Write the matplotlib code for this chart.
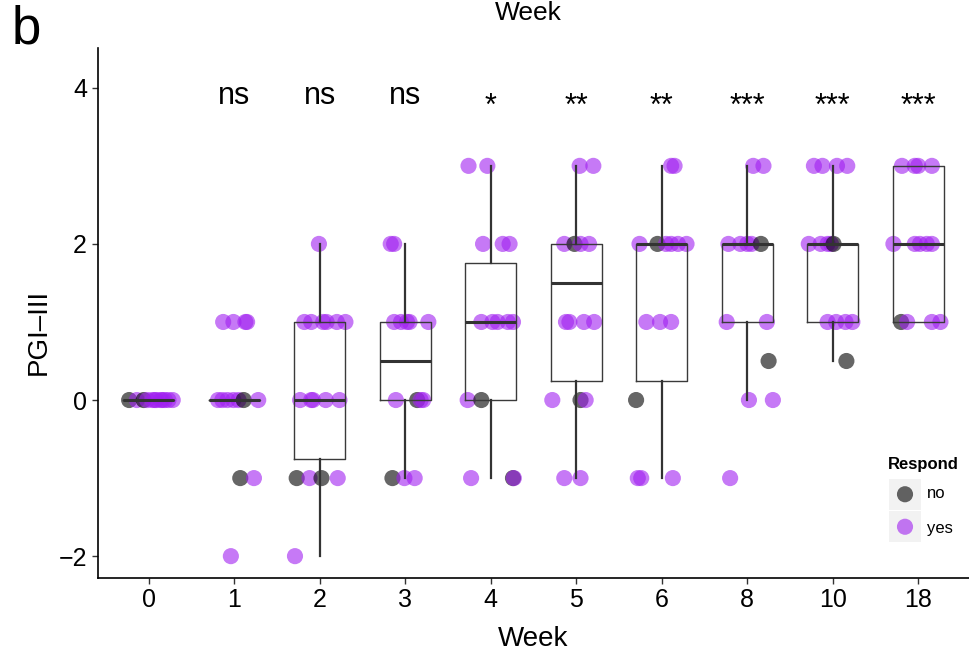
import numpy as np
import matplotlib
matplotlib.use("Agg")
import matplotlib.pyplot as plt
from matplotlib.patches import Rectangle

plt.rcParams['font.family'] = ['Liberation Sans', 'DejaVu Sans']

weeks = ['0', '1', '2', '3', '4', '5', '6', '8', '10', '18']
signif = ['', 'ns', 'ns', 'ns', '*', '**', '**', '***', '***', '***']

# points per week: (PGI-III, horizontal jitter in category units, respond)
w0 = [(0, -0.23, 'no'), (0, -0.14, 'yes'), (0, -0.06, 'no'), (0, -0.02, 'yes'),
      (0, 0.04, 'yes'), (0, 0.07, 'yes'), (0, 0.09, 'yes'), (0, 0.14, 'yes'),
      (0, 0.16, 'yes'), (0, 0.19, 'yes'), (0, 0.23, 'yes'), (0, 0.28, 'yes')]
w1 = [(1, -0.13, 'yes'), (1, -0.01, 'yes'), (1, 0.13, 'yes'), (1, 0.15, 'yes'),
      (0, -0.19, 'yes'), (0, -0.14, 'yes'), (0, -0.08, 'yes'), (0, -0.01, 'yes'),
      (0, 0.05, 'yes'), (0, 0.11, 'no'), (0, 0.28, 'yes'),
      (-1, 0.07, 'no'), (-1, 0.23, 'yes'), (-2, -0.04, 'yes')]
w2 = [(2, -0.01, 'yes'),
      (1, -0.18, 'yes'), (1, -0.10, 'yes'), (1, 0.04, 'yes'), (1, 0.08, 'yes'),
      (1, 0.20, 'yes'), (1, 0.30, 'yes'),
      (0, -0.23, 'yes'), (0, -0.10, 'yes'), (0, -0.08, 'yes'), (0, 0.07, 'yes'),
      (0, 0.23, 'yes'),
      (-1, -0.27, 'no'), (-1, -0.12, 'yes'), (-1, 0.02, 'no'), (-1, 0.21, 'yes'),
      (-2, -0.29, 'yes')]
w3 = [(2, -0.17, 'yes'), (2, -0.13, 'yes'),
      (1, -0.13, 'yes'), (1, -0.05, 'yes'), (1, 0.02, 'yes'), (1, 0.05, 'yes'),
      (1, 0.27, 'yes'),
      (0, -0.11, 'yes'), (0, 0.14, 'no'), (0, 0.18, 'yes'), (0, 0.21, 'yes'),
      (-1, -0.15, 'no'), (-1, -0.01, 'yes'), (-1, 0.11, 'yes')]
w4 = [(3, -0.26, 'yes'), (3, -0.04, 'yes'),
      (2, -0.09, 'yes'), (2, 0.14, 'yes'), (2, 0.22, 'yes'),
      (1, -0.11, 'yes'), (1, 0.02, 'yes'), (1, 0.08, 'yes'), (1, 0.20, 'yes'),
      (1, 0.26, 'yes'),
      (0, -0.27, 'yes'), (0, -0.11, 'no'),
      (-1, -0.23, 'yes'), (-1, 0.26, 'no'), (-1, 0.27, 'yes')]
w5 = [(3, 0.04, 'yes'), (3, 0.20, 'yes'),
      (2, -0.14, 'yes'), (2, -0.02, 'no'), (2, 0.05, 'yes'), (2, 0.15, 'yes'),
      (1, -0.12, 'yes'), (1, -0.08, 'yes'), (1, 0.09, 'yes'), (1, 0.21, 'yes'),
      (0, -0.28, 'yes'), (0, 0.05, 'no'), (0, 0.11, 'yes'),
      (-1, -0.14, 'yes'), (-1, 0.05, 'yes')]
w6 = [(3, 0.11, 'yes'), (3, 0.15, 'yes'),
      (2, -0.26, 'yes'), (2, -0.05, 'no'), (2, 0.05, 'yes'), (2, 0.11, 'yes'),
      (2, 0.19, 'yes'), (2, 0.29, 'yes'),
      (1, -0.18, 'yes'), (1, -0.02, 'yes'), (1, 0.11, 'yes'),
      (0, -0.30, 'no'),
      (-1, -0.28, 'yes'), (-1, -0.24, 'yes'), (-1, 0.13, 'yes')]
w8 = [(3, 0.07, 'yes'), (3, 0.19, 'yes'),
      (2, -0.22, 'yes'), (2, -0.08, 'yes'), (2, 0.0, 'yes'), (2, 0.05, 'yes'),
      (2, 0.16, 'no'),
      (1, -0.24, 'yes'), (1, 0.23, 'yes'),
      (0.5, 0.25, 'no'),
      (0, 0.02, 'yes'), (0, 0.30, 'yes'),
      (-1, -0.20, 'yes')]
w10 = [(3, -0.22, 'yes'), (3, -0.12, 'yes'), (3, 0.05, 'yes'), (3, 0.17, 'yes'),
       (2, -0.28, 'yes'), (2, -0.14, 'yes'), (2, -0.06, 'yes'), (2, -0.02, 'yes'),
       (2, 0.01, 'no'),
       (1, -0.06, 'yes'), (1, 0.04, 'yes'), (1, 0.15, 'yes'), (1, 0.23, 'yes'),
       (0.5, 0.16, 'no')]
w18 = [(3, -0.19, 'yes'), (3, -0.04, 'yes'), (3, 0.0, 'yes'), (3, 0.16, 'yes'),
       (2, -0.29, 'yes'), (2, -0.04, 'yes'), (2, 0.02, 'yes'), (2, 0.10, 'yes'),
       (2, 0.16, 'yes'),
       (1, -0.20, 'no'), (1, -0.13, 'yes'), (1, 0.16, 'yes'), (1, 0.26, 'yes')]
points = [w0, w1, w2, w3, w4, w5, w6, w8, w10, w18]

# box stats
q1 = [0, 0, -0.75, 0, 0, 0.25, 0.25, 1, 1, 1]
med = [0, 0, 0, 0.5, 1, 1.5, 2, 2, 2, 2]
q3 = [0, 0, 1, 1, 1.75, 2, 2, 2, 2, 3]
wlo = [0, 0, -2, -1, -1, -1, -1, 0, 0.5, 1]
whi = [0, 0, 2, 2, 3, 3, 3, 3, 3, 3]

cols = {'no': (0, 0, 0, 0.6), 'yes': (0.627, 0.125, 0.941, 0.6)}

fig = plt.figure(figsize=(9.69, 6.56), dpi=100)
ax = fig.add_axes([97.5 / 969, 78 / 656, 872 / 969, 530 / 656])

for i, pts in enumerate(points):
    xs = [i + p[1] for p in pts]
    ys = [p[0] for p in pts]
    cs = [cols[p[2]] for p in pts]
    ax.scatter(xs, ys, s=135, c=cs, edgecolors='none', zorder=2)

stats = []
for i in range(len(weeks)):
    stats.append(dict(q1=q1[i], med=med[i], q3=q3[i], whislo=wlo[i], whishi=whi[i]))
ax.bxp(stats, positions=range(len(weeks)), widths=0.6, showfliers=False, showcaps=False,
       boxprops=dict(color='#3a3a3a', lw=1.0, zorder=3),
       whiskerprops=dict(color='#333333', lw=1.6, zorder=3),
       medianprops=dict(color='#333333', lw=2.2, zorder=3))

for i, s in enumerate(signif):
    if s == 'ns':
        ax.text(i, 3.9, s, ha='center', va='center', fontsize=22, color='black')
    elif s:
        ax.text(i, 3.76, s, ha='center', va='center', fontsize=22, color='black')

ax.set_xlim(-0.6, 9.6)
ax.set_ylim(-2.28, 4.51)
ax.set_xticks(range(len(weeks)), weeks)
ax.set_yticks([-2, 0, 2, 4])
ax.tick_params(labelsize=18, length=4, width=1)
ax.tick_params(axis='both', colors='#333333', labelcolor='black')
for side in ['top', 'right']:
    ax.spines[side].set_visible(False)
for side in ['left', 'bottom']:
    ax.spines[side].set_linewidth(1.2)
ax.set_xlabel('Week', fontsize=20, labelpad=10)
ax.set_ylabel('PGI–III', fontsize=20)
ax.yaxis.set_label_coords(-0.053, 0.464)

fig.text(528 / 969, 1 - 13 / 656, 'Week', ha='center', va='center', fontsize=19)
fig.text(12 / 969, 1 - 30 / 656, 'b', ha='left', va='center', fontsize=38)

# legend
fig.text(888 / 969, 1 - 465 / 656, 'Respond', ha='left', va='center', fontsize=12,
         fontweight='bold')
lax = fig.add_axes([889 / 969, 1 - 543 / 656, 32 / 969, 65 / 656])
lax.set_xlim(0, 1)
lax.set_ylim(0, 2)
lax.axis('off')
for k, lab in enumerate(['no', 'yes']):
    yk = 1.5 - k
    lax.add_patch(Rectangle((0, yk - 0.47), 1, 0.94, color='#f2f2f2', lw=0))
    lax.scatter([0.5], [yk], s=135, c=[cols[lab]], edgecolors='none')
    fig.text(927 / 969, 1 - (494 + 34 * k) / 656, lab, ha='left', va='center', fontsize=12)

fig.savefig('out.png', dpi=100)
